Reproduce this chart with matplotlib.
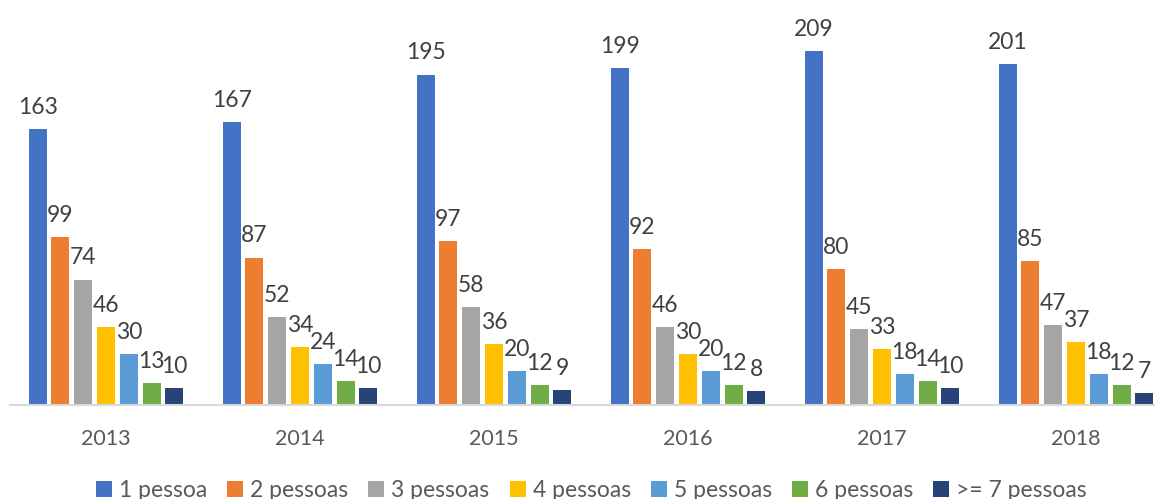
import matplotlib
matplotlib.use("Agg")
import matplotlib.pyplot as plt
import numpy as np

years = ["2013", "2014", "2015", "2016", "2017", "2018"]
series_names = ["1 pessoa", "2 pessoas", "3 pessoas", "4 pessoas",
                "5 pessoas", "6 pessoas", ">= 7 pessoas"]
p1 = [163, 167, 195, 199, 209, 201]
p2 = [99, 87, 97, 92, 80, 85]
p3 = [74, 52, 58, 46, 45, 47]
p4 = [46, 34, 36, 30, 33, 37]
p5 = [30, 24, 20, 20, 18, 18]
p6 = [13, 14, 12, 12, 14, 12]
p7 = [10, 10, 9, 8, 10, 7]
colors = ["#4472C4", "#ED7D31", "#A5A5A5", "#FFC000",
          "#5B9BD5", "#70AD47", "#264478"]

plt.rcParams["font.family"] = ["Lato", "DejaVu Sans"]

fig = plt.figure(figsize=(11.55, 4.99), dpi=100)
ax = fig.add_axes([10 / 1155, 94 / 499, 1 - 10 / 1155, 405 / 499])

x = np.arange(len(years))
step = 22.8 / 194
width = 18 / 194
handles = []
for k, (name, vals, col) in enumerate(zip(series_names,
                                          [p1, p2, p3, p4, p5, p6, p7],
                                          colors)):
    bars = ax.bar(x + (k - 3) * step, vals, width, color=col, label=name)
    ax.bar_label(bars, padding=8, fontsize=16.5, color="#404040")
    handles.append(bars)

ax.set_xlim(-0.495, 5.407)
ax.set_ylim(0, 239)
ax.set_xticks(x)
ax.set_xticklabels(years, fontsize=15.5, color="#595959")
ax.tick_params(axis="x", length=0, pad=17)
ax.set_yticks([])
for side in ["top", "right", "left"]:
    ax.spines[side].set_visible(False)
ax.spines["bottom"].set_color("#D9D9D9")
ax.spines["bottom"].set_linewidth(1.5)

fig.legend(handles=handles, loc="center", bbox_to_anchor=(0.512, 0.017),
           ncol=7, frameon=False, fontsize=16.5, handlelength=0.7,
           handleheight=0.7, handletextpad=0.3, columnspacing=0.88,
           labelcolor="#595959")

fig.savefig("out.png", dpi=100)
